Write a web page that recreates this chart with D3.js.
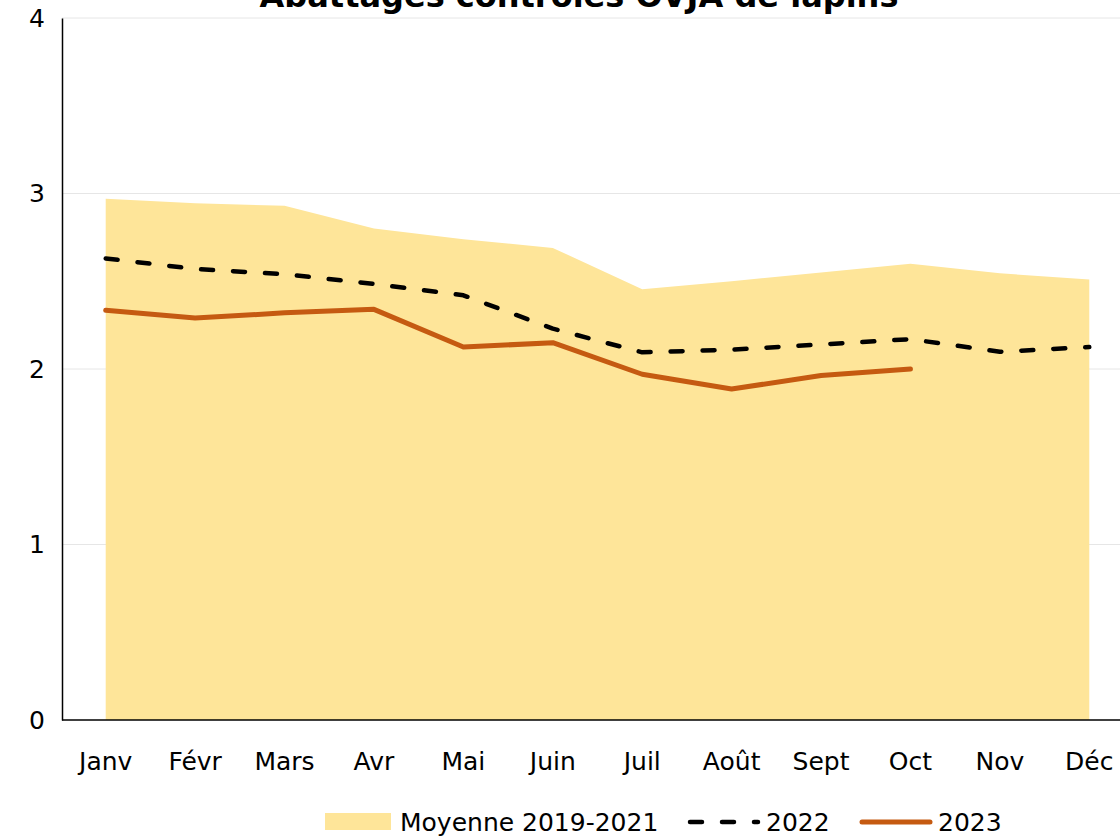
<!DOCTYPE html>
<html><head><meta charset="utf-8">
<script src="https://cdn.jsdelivr.net/npm/d3@7"></script>
<style>
html,body{margin:0;padding:0;background:#fff;}
svg{display:block;}
text{font-family:"DejaVu Sans",sans-serif;}
</style></head>
<body>
<svg id="chart" width="1120" height="838"></svg>
<script>
const months = ["Janv","Févr","Mars","Avr","Mai","Juin","Juil","Août","Sept","Oct","Nov","Déc"];
const moyenne = [2.97,2.945,2.93,2.80,2.74,2.69,2.455,2.50,2.55,2.60,2.545,2.51];
const y2022 = [2.63,2.57,2.54,2.485,2.42,2.23,2.095,2.11,2.14,2.17,2.098,2.125];
const y2023 = [2.335,2.29,2.32,2.34,2.125,2.15,1.97,1.886,1.963,2.0];
const yTicks = [0,1,2,3,4];
const title = "Abattages contrôlés OVJA de lapins";
const legendLabels = ["Moyenne 2019-2021","2022","2023"];

const svg = d3.select("#chart");
const x = d3.scaleBand().domain(months).range([61,1134]).padding(0);
const cx = m => x(m) + x.bandwidth()/2;
const y = d3.scaleLinear().domain([0,4]).range([720,18]);

svg.append("g").selectAll("line").data(yTicks.filter(d=>d>0)).join("line")
  .attr("x1",62).attr("x2",1120).attr("y1",d=>y(d)).attr("y2",d=>y(d))
  .attr("stroke","#e6e6e6").attr("stroke-width",1);

const area = d3.area().x((d,i)=>cx(months[i])).y0(y(0)).y1(d=>y(d));
svg.append("path").datum(moyenne).attr("d",area).attr("fill","#fee599");

const line = d3.line().x((d,i)=>cx(months[i])).y(d=>y(d));
svg.append("path").datum(y2022).attr("d",line).attr("fill","none")
  .attr("stroke","#000").attr("stroke-width",4.5).attr("stroke-dasharray","12,20")
  .attr("stroke-linecap","round").attr("stroke-linejoin","round");
svg.append("path").datum(y2023).attr("d",line).attr("fill","none")
  .attr("stroke","#c55a11").attr("stroke-width",5)
  .attr("stroke-linecap","round").attr("stroke-linejoin","round");

const yAxis = d3.axisLeft(y).tickValues(yTicks).tickSize(0).tickPadding(17).tickFormat(d3.format("d"));
const gy = svg.append("g").attr("transform","translate(62,0)").call(yAxis);
gy.select(".domain").attr("stroke","#000").attr("stroke-width",1.5);
gy.selectAll("text").attr("font-size",25).attr("fill","#000").attr("font-family","DejaVu Sans");

const xAxis = d3.axisBottom(x).tickSize(0).tickPadding(32);
const gx = svg.append("g").attr("transform","translate(0,720)").call(xAxis);
gx.select(".domain").remove();
svg.append("line").attr("x1",62).attr("x2",1120).attr("y1",720).attr("y2",720).attr("stroke","#000").attr("stroke-width",1.5);
gx.selectAll("text").attr("font-size",25).attr("fill","#000").attr("font-family","DejaVu Sans");

svg.append("text").attr("x",579).attr("y",7).attr("text-anchor","middle")
  .attr("font-size",32).attr("font-weight","bold").attr("fill","#000").text(title);

const lg = svg.append("g");
lg.append("rect").attr("x",325).attr("y",813).attr("width",66).attr("height",17).attr("fill","#fee599");
lg.append("text").attr("x",400).attr("y",831).attr("font-size",25).text(legendLabels[0]);
lg.append("line").attr("x1",690).attr("x2",758).attr("y1",822).attr("y2",822)
  .attr("stroke","#000").attr("stroke-width",4.5).attr("stroke-dasharray","12,20").attr("stroke-linecap","round");
lg.append("text").attr("x",766).attr("y",831).attr("font-size",25).text(legendLabels[1]);
lg.append("line").attr("x1",862).attr("x2",930).attr("y1",822).attr("y2",822)
  .attr("stroke","#c55a11").attr("stroke-width",5).attr("stroke-linecap","round");
lg.append("text").attr("x",938).attr("y",831).attr("font-size",25).text(legendLabels[2]);
</script>
</body></html>
